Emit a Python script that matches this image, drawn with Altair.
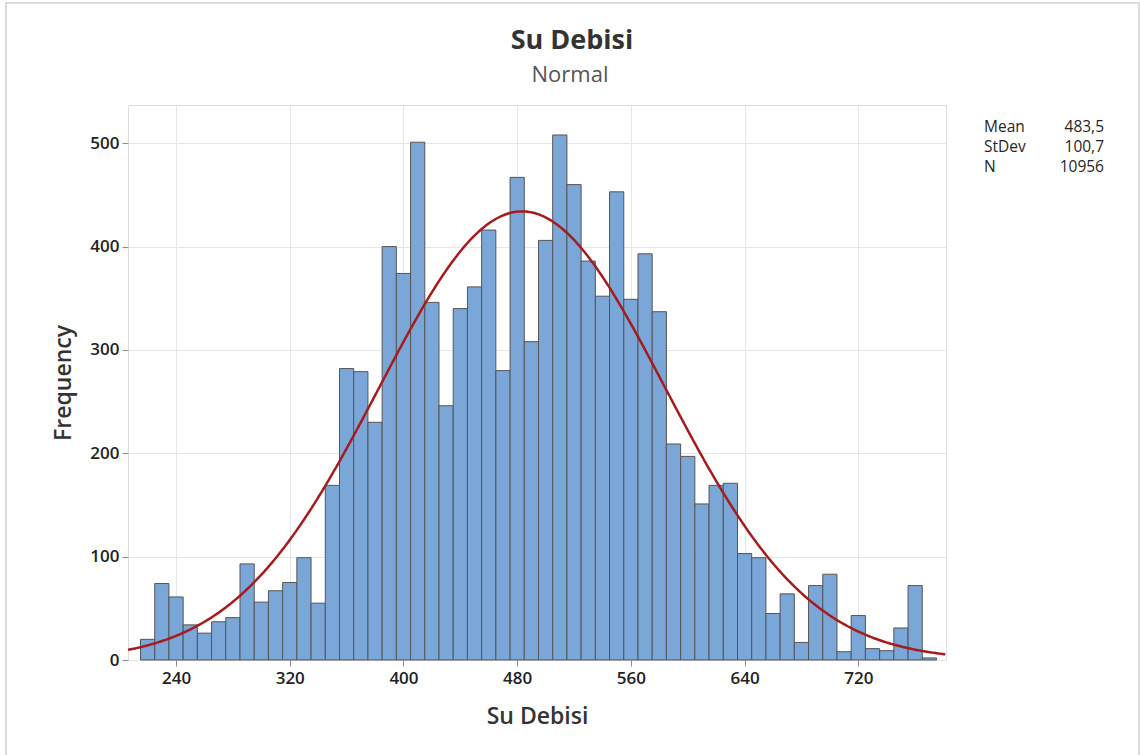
import altair as alt
import pandas as pd

# ---- data ----
bin_centers = list(range(220, 780, 10))
counts = [20, 74, 61, 34, 26, 37, 41, 93, 56, 67,
          75, 99, 55, 169, 282, 279, 230, 400, 374, 501,
          346, 246, 340, 361, 416, 280, 467, 308, 406, 508,
          460, 386, 352, 453, 349, 393, 337, 209, 197, 151,
          169, 171, 103, 99, 45, 64, 17, 72, 83, 8,
          43, 11, 9, 31, 72, 2]
bin_width = 10
x_ticks = [240, 320, 400, 480, 560, 640, 720]
y_ticks = [0, 100, 200, 300, 400, 500]
stat_names = ["Mean", "StDev", "N"]
stat_values = ["483,5", "100,7", "10956"]
fit_mean = 483.5
fit_sd = 100.7
fit_n = 10956
title_text = "Su Debisi"
subtitle_text = "Normal"
x_title = "Su Debisi"
y_title = "Frequency"

FONT = "Open Sans"
W, H = 818, 555
X_DOMAIN = [206.2, 781.7]
Y_DOMAIN = [0, 537]

hist = pd.DataFrame({
    "start": [c - bin_width / 2 for c in bin_centers],
    "end": [c + bin_width / 2 for c in bin_centers],
    "count": counts,
})

xscale = alt.Scale(domain=X_DOMAIN, nice=False, zero=False)
yscale = alt.Scale(domain=Y_DOMAIN, nice=False)

xaxis = alt.Axis(values=x_ticks, grid=True, gridColor="#e6e6e6", domain=False,
                 tickColor="#8c8c8c", tickSize=6, labelFontSize=17, labelFontWeight=600,
                 labelColor="#222222", labelPadding=4, title=x_title,
                 titleFontSize=23, titleFontWeight=600, titleColor="#333333",
                 titlePadding=19, labelFont=FONT, titleFont=FONT)
yaxis = alt.Axis(values=y_ticks, grid=True, gridColor="#e6e6e6", domain=False,
                 tickColor="#8c8c8c", tickSize=6, labelFontSize=17, labelFontWeight=600,
                 labelColor="#222222", labelPadding=3, title=y_title,
                 titleFontSize=23, titleFontWeight=600, titleColor="#333333",
                 titlePadding=14, labelFont=FONT, titleFont=FONT)

border = alt.Chart(pd.DataFrame({"a": [0]})).mark_rect(
    fill=None, stroke="#dcdcdc", strokeWidth=2
).encode(x=alt.value(-122), x2=alt.value(1011), y=alt.value(-102), y2=alt.value(660))

bars = alt.Chart(hist).mark_bar(
    fill="#7BA6D8", stroke="#555555", strokeWidth=1, opacity=1
).encode(
    x=alt.X("start:Q", scale=xscale, axis=xaxis),
    x2="end:Q",
    y=alt.Y("count:Q", scale=yscale, axis=yaxis),
    y2=alt.datum(0),
)

curve = alt.Chart(alt.sequence(206.2, 781.8, 1, as_="x")).transform_calculate(
    f=f"{fit_n * bin_width} / ({fit_sd} * sqrt(2 * PI)) * exp(-0.5 * pow((datum.x - {fit_mean}) / {fit_sd}, 2))"
).mark_line(color="#A51C1E", strokeWidth=2.5).encode(
    x=alt.X("x:Q", scale=xscale),
    y=alt.Y("f:Q", scale=yscale),
)

title_mark = alt.Chart(pd.DataFrame({"t": [title_text]})).mark_text(
    align="center", baseline="alphabetic", font=FONT, fontSize=27, fontWeight="bold",
    color="#333333"
).encode(x=alt.value(444), y=alt.value(-56), text="t:N")
subtitle_mark = alt.Chart(pd.DataFrame({"t": [subtitle_text]})).mark_text(
    align="center", baseline="alphabetic", font=FONT, fontSize=22, color="#555555"
).encode(x=alt.value(442), y=alt.value(-23), text="t:N")

stats = []
for i, (nm, val) in enumerate(zip(stat_names, stat_values)):
    yy = 27 + 20 * i
    stats.append(alt.Chart(pd.DataFrame({"t": [nm]})).mark_text(
        align="left", baseline="alphabetic", font=FONT, fontSize=15.5, color="#262626"
    ).encode(x=alt.value(856), y=alt.value(yy), text="t:N"))
    stats.append(alt.Chart(pd.DataFrame({"t": [val]})).mark_text(
        align="right", baseline="alphabetic", font=FONT, fontSize=15.5, color="#262626"
    ).encode(x=alt.value(976), y=alt.value(yy), text="t:N"))

chart = alt.layer(border, bars, curve, title_mark, subtitle_mark, *stats).properties(
    width=W, height=H,
    autosize=alt.AutoSizeParams(type="none"),
    padding={"left": 128, "top": 105, "right": 194, "bottom": 95},
).configure_view(
    stroke="#8c8c8c", strokeWidth=1
).configure(background="white")

chart.save("out.html", embed_options={"renderer": "svg", "actions": False})
